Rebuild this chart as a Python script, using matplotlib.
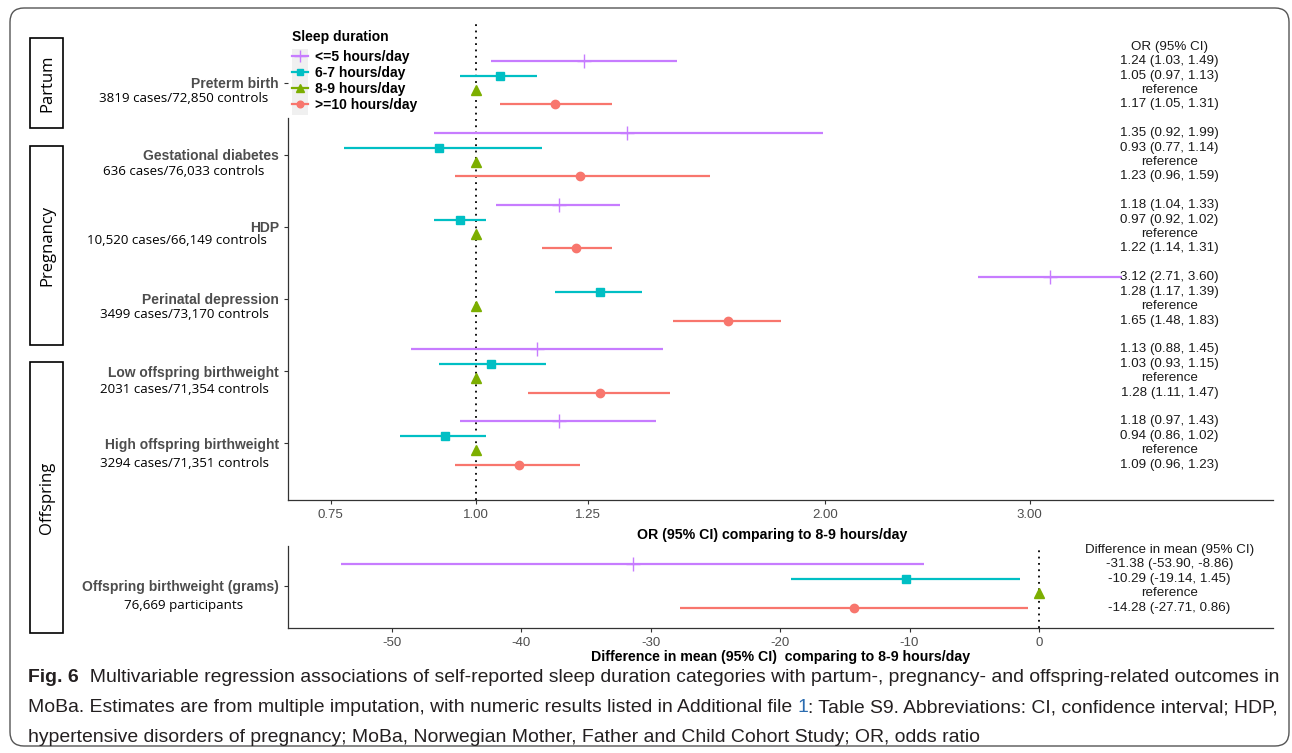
import numpy as np
import matplotlib
matplotlib.use("Agg")
import matplotlib.pyplot as plt
from matplotlib.lines import Line2D
from matplotlib.patches import Rectangle, FancyBboxPatch
from matplotlib.transforms import blended_transform_factory

# ---- data ----
outcomes = ["Preterm birth", "Gestational diabetes", "HDP", "Perinatal depression",
            "Low offspring birthweight", "High offspring birthweight"]
counts = ["3819 cases/72,850 controls", "636 cases/76,033 controls",
          "10,520 cases/66,149 controls", "3499 cases/73,170 controls",
          "2031 cases/71,354 controls", "3294 cases/71,351 controls"]
groups = ["<=5 hours/day", "6-7 hours/day", "8-9 hours/day", ">=10 hours/day"]

or_le5 = [1.24, 1.35, 1.18, 3.12, 1.13, 1.18]
or_le5_lo = [1.03, 0.92, 1.04, 2.71, 0.88, 0.97]
or_le5_hi = [1.49, 1.99, 1.33, 3.60, 1.45, 1.43]
or_67 = [1.05, 0.93, 0.97, 1.28, 1.03, 0.94]
or_67_lo = [0.97, 0.77, 0.92, 1.17, 0.93, 0.86]
or_67_hi = [1.13, 1.14, 1.02, 1.39, 1.15, 1.02]
or_89 = [1.0, 1.0, 1.0, 1.0, 1.0, 1.0]
or_ge10 = [1.17, 1.23, 1.22, 1.65, 1.28, 1.09]
or_ge10_lo = [1.05, 0.96, 1.14, 1.48, 1.11, 0.96]
or_ge10_hi = [1.31, 1.59, 1.31, 1.83, 1.47, 1.23]

bw_label = "Offspring birthweight (grams)"
bw_n = "76,669 participants"
# drawn bars (the picture draws the upper ends of two intervals below zero)
bw_diff = [-31.38, -10.29, 0.0, -14.28]
bw_lo = [-53.90, -19.14, None, -27.71]
bw_hi = [-8.86, -1.45, None, -0.86]
bw_text = ["-31.38 (-53.90, -8.86)", "-10.29 (-19.14, 1.45)", "reference",
           "-14.28 (-27.71, 0.86)"]

or_ticks = [0.75, 1.00, 1.25, 2.00, 3.00]
bw_ticks = [-50, -40, -30, -20, -10, 0]

# ---- style ----
colors = ["#C77CFF", "#00BFC4", "#7CAE00", "#F8766D"]
markers = ["+", "s", "^", "o"]
msizes = [10, 6, 6.5, 6]
offsets = [-0.3, -0.1, 0.1, 0.3]
grey = "#4D4D4D"
sans = "Liberation Sans"
W, H = 1292, 753

fig = plt.figure(figsize=(W / 100, H / 100), dpi=100)

# background axes in pixel coordinates
bg = fig.add_axes([0, 0, 1, 1])
bg.set_xlim(0, W)
bg.set_ylim(H, 0)
bg.axis("off")
bg.set_zorder(-1)

ax = fig.add_axes([288 / W, 1 - 500 / H, 985 / W, 476 / H])
ax2 = fig.add_axes([288 / W, 1 - 628 / H, 985 / W, 82 / H])
for a in (ax, ax2):
    a.set_facecolor("none")
    for s in ("top", "right"):
        a.spines[s].set_visible(False)
    for s in ("left", "bottom"):
        a.spines[s].set_color("#333333")
        a.spines[s].set_linewidth(0.9)
    a.tick_params(length=3, width=0.8, color="#333333")

# ---- top panel: odds ratios ----
ypos = np.arange(len(outcomes))
series = [(or_le5, or_le5_lo, or_le5_hi), (or_67, or_67_lo, or_67_hi),
          (or_89, None, None), (or_ge10, or_ge10_lo, or_ge10_hi)]
ax.axvline(1.0, color="black", ls=(0, (1, 2.5)), lw=1.3, zorder=1)
for k, (est, lo, hi) in enumerate(series):
    y = ypos + offsets[k]
    if lo is not None:
        ax.hlines(y, lo, hi, color=colors[k], lw=1.6, zorder=2)
    ax.plot(est, y, ls="none", marker=markers[k], ms=msizes[k], color=colors[k],
            mew=1.0, zorder=3)

ax.set_xscale("log")
ax.set_xlim(0.689, 4.86)
ax.set_xticks(or_ticks)
ax.set_xticklabels(["%.2f" % t for t in or_ticks], family=sans, fontsize=9.5, color=grey)
ax.minorticks_off()
ax.set_ylim(5.79, -0.815)
ax.spines["left"].set_bounds(5.79, 0.49)
ax.set_yticks(ypos)
ax.set_yticklabels(outcomes, fontweight="bold", fontsize=10, color=grey, family=sans)
ax.set_xlabel("OR (95% CI) comparing to 8-9 hours/day", family=sans,
              fontweight="bold", fontsize=10.2)
ax.xaxis.set_label_coords(0.492, -0.058)

tr = blended_transform_factory(ax.transAxes, ax.transData)
ax.text(0.895, -0.5, "OR (95% CI)", transform=tr, ha="center", va="center",
        fontsize=9.6, family=sans, color="#1A1A1A")
for k, (est, lo, hi) in enumerate(series):
    for i in range(len(outcomes)):
        txt = "reference" if lo is None else "%.2f (%.2f, %.2f)" % (est[i], lo[i], hi[i])
        ax.text(0.895, ypos[i] + offsets[k], txt, transform=tr, ha="center",
                va="center", fontsize=9.6, family=sans, color="#1A1A1A")

# legend
handles = [Line2D([], [], color=colors[k], marker=markers[k], ms=msizes[k] * 0.8,
                  lw=1.6, mew=1.0) for k in range(4)]
leg = ax.legend(handles, groups, loc="upper left",
                bbox_to_anchor=(292 / W, 1 - 50 / H), bbox_transform=fig.transFigure,
                frameon=False, prop={"family": sans, "weight": "bold", "size": 10},
                handlelength=1.15, handletextpad=0.5,
                labelspacing=0.14, borderpad=0, borderaxespad=0)
bg.text(292, 37, "Sleep duration", ha="left", va="center", fontsize=10,
        fontweight="bold", family=sans)
bg.add_patch(Rectangle((292, 49), 16, 66, color="#F0F0F0", lw=0))

# ---- bottom panel: birthweight difference ----
ax2.axvline(0, color="black", ls=(0, (1, 2.5)), lw=1.3, zorder=1)
tr2 = blended_transform_factory(ax2.transAxes, ax2.transData)
ax2.text(0.895, -0.5, "Difference in mean (95% CI)", transform=tr2, ha="center",
         va="center", fontsize=9.6, family=sans, color="#1A1A1A")
for k in range(4):
    y = offsets[k]
    if bw_lo[k] is not None:
        ax2.hlines(y, bw_lo[k], bw_hi[k], color=colors[k], lw=1.6, zorder=2)
    ax2.plot(bw_diff[k], y, ls="none", marker=markers[k], ms=msizes[k], color=colors[k],
             mew=1.0, zorder=3)
    ax2.text(0.895, y, bw_text[k], transform=tr2, ha="center", va="center",
             fontsize=9.6, family=sans, color="#1A1A1A")
ax2.set_xlim(-58.0, 18.07)
ax2.set_ylim(0.583, -0.555)
ax2.set_xticks(bw_ticks)
ax2.set_xticklabels([str(t) for t in bw_ticks], family=sans, fontsize=9.5, color=grey)
ax2.set_yticks([0])
ax2.set_yticklabels([bw_label], fontweight="bold", fontsize=10, color=grey, family=sans)
ax2.set_xlabel("Difference in mean (95% CI)  comparing to 8-9 hours/day", family=sans,
               fontweight="bold", fontsize=10.2, labelpad=1)

# ---- case counts under outcome labels ----
count_y = [98, 171, 240, 314, 389, 463]
count_x = [184, 184, 177, 184, 184, 184]
for i, c in enumerate(counts):
    bg.text(count_x[i], count_y[i], c, ha="center", va="center", fontsize=9.6,
            family="Open Sans", color="black")
bg.text(184, 606, bw_n, ha="center", va="center", fontsize=9.6,
        family="Open Sans", color="black")

# ---- section boxes ----
for name, y0, y1 in [("Partum", 38, 128), ("Pregnancy", 146, 345), ("Offspring", 362, 633)]:
    bg.add_patch(Rectangle((30, y0), 33, y1 - y0, fill=False, ec="black", lw=1.2))
    bg.text(47, (y0 + y1) / 2, name, rotation=90, ha="center", va="center",
            fontsize=12, family="Open Sans")

# outer frame
bg.add_patch(FancyBboxPatch((10, 8), 1279, 738, boxstyle="round,pad=0,rounding_size=14",
                            fill=False, ec="#555555", lw=1.0))

# ---- caption ----
cap_font = dict(family=sans, fontsize=13, color="#231F20")
t = bg.text(28, 678, "Fig. 6", va="center", ha="left", fontweight="bold", **cap_font)
t1 = bg.annotate("  Multivariable regression associations of self-reported sleep duration "
                 "categories with partum-, pregnancy- and offspring-related outcomes in",
                 xy=(1, 0), xycoords=t, va="bottom", ha="left", **cap_font)
t2 = bg.text(28, 708, "MoBa. Estimates are from multiple imputation, with numeric results "
             "listed in Additional file ", va="center", ha="left", **cap_font)
t3 = bg.annotate("1", xy=(1, 0), xycoords=t2, va="bottom", ha="left",
                 family=sans, fontsize=13, color="#2B6CB0")
t4 = bg.annotate(": Table S9. Abbreviations: CI, confidence interval; HDP,", xy=(1, 0),
                 xycoords=t3, va="bottom", ha="left", **cap_font)
t5 = bg.text(28, 737, "hypertensive disorders of pregnancy; MoBa, Norwegian Mother, Father "
             "and Child Cohort Study; OR, odds ratio", va="center", ha="left", **cap_font)

# fit caption width to the reference's first line (28 px to 1270 px)
fig.canvas.draw()
right = t1.get_window_extent().x1
scale = (1270 - 28) / (right - 28)
for a in (t, t1, t2, t3, t4, t5):
    a.set_fontsize(13 * scale)

fig.savefig("out.png", dpi=100)
